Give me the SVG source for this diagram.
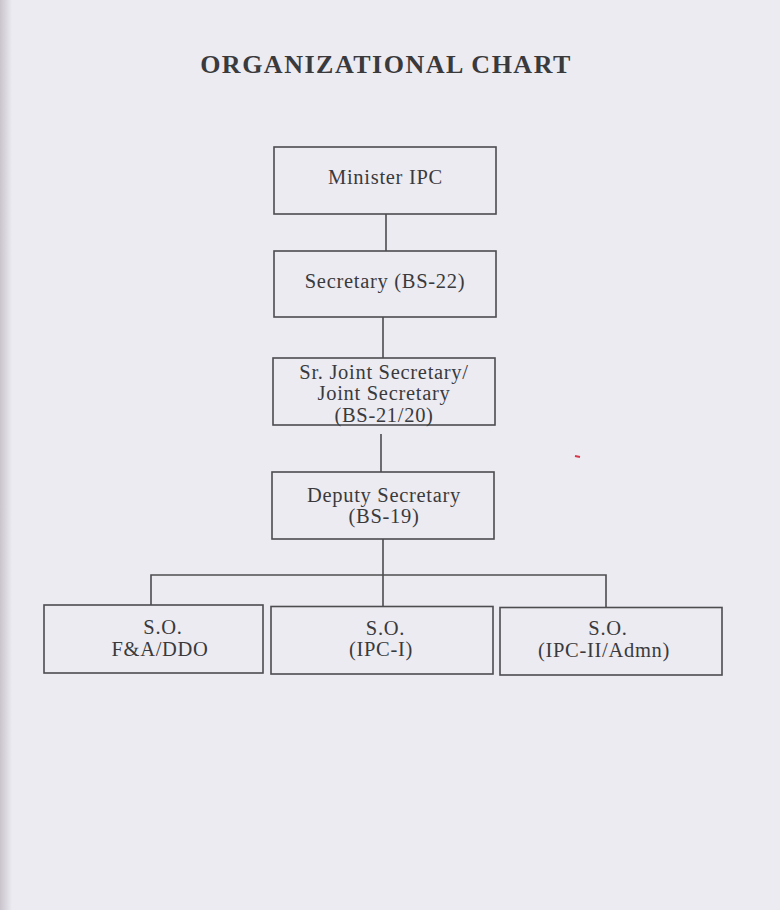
<svg xmlns="http://www.w3.org/2000/svg" width="780" height="910" viewBox="0 0 780 910">
  <defs>
    <linearGradient id="edge" x1="0" y1="0" x2="1" y2="0">
      <stop offset="0" stop-color="#c9c3cc"/>
      <stop offset="1" stop-color="#ecebf2"/>
    </linearGradient>
    <style>
      .box { fill: none; stroke: #4d4d4f; stroke-width: 1.6; }
      .wire { fill: none; stroke: #4d4d4f; stroke-width: 1.6; }
      .lbl { font-family: "Liberation Serif", "Times New Roman", serif; font-size: 20.5px; letter-spacing: 0.7px; fill: #3a3a3c; text-anchor: middle; }
      .title { font-family: "Liberation Serif", "Times New Roman", serif; font-size: 26px; font-weight: bold; fill: #3a3a3c; text-anchor: middle; letter-spacing: 1.5px; }
    </style>
  </defs>

  <rect x="0" y="0" width="780" height="910" fill="#ecebf2"/>
  <rect x="0" y="0" width="12" height="910" fill="url(#edge)"/>

  <text class="title" x="386" y="73">ORGANIZATIONAL CHART</text>

  <g id="connectors">
    <line class="wire" x1="386" y1="214" x2="386" y2="251"/>
    <line class="wire" x1="383" y1="317" x2="383" y2="358"/>
    <line class="wire" x1="381" y1="434" x2="381" y2="472"/>
    <line class="wire" x1="383" y1="539" x2="383" y2="606"/>
    <polyline class="wire" points="151,605 151,575 606,575 606,607"/>
  </g>

  <g id="minister">
    <rect class="box" x="274" y="147" width="222" height="67"/>
    <text class="lbl" x="385.5" y="184">Minister IPC</text>
  </g>

  <g id="secretary">
    <rect class="box" x="274" y="251" width="222" height="66"/>
    <text class="lbl" x="385" y="288">Secretary (BS-22)</text>
  </g>

  <g id="joint-secretary">
    <rect class="box" x="273" y="358" width="222" height="67"/>
    <text class="lbl" x="384" y="378.5">Sr. Joint Secretary/</text>
    <text class="lbl" x="384" y="400">Joint Secretary</text>
    <text class="lbl" x="384" y="421.5">(BS-21/20)</text>
  </g>

  <g id="deputy-secretary">
    <rect class="box" x="272" y="472" width="222" height="67"/>
    <text class="lbl" x="384" y="501.5">Deputy Secretary</text>
    <text class="lbl" x="384" y="523">(BS-19)</text>
  </g>

  <g id="so-fa-ddo">
    <rect class="box" x="44" y="605" width="219" height="68"/>
    <text class="lbl" x="163" y="634">S.O.</text>
    <text class="lbl" x="160" y="655.5">F&amp;A/DDO</text>
  </g>

  <g id="so-ipc-i">
    <rect class="box" x="271" y="606.5" width="222" height="67.5"/>
    <text class="lbl" x="385.5" y="634.5">S.O.</text>
    <text class="lbl" x="381" y="656">(IPC-I)</text>
  </g>

  <g id="so-ipc-ii">
    <rect class="box" x="500" y="607.5" width="222" height="67.5"/>
    <text class="lbl" x="608" y="635">S.O.</text>
    <text class="lbl" x="604" y="656.5">(IPC-II/Admn)</text>
  </g>

  <line x1="575" y1="456" x2="580" y2="457" stroke="#d9384c" stroke-width="2"/>
</svg>
